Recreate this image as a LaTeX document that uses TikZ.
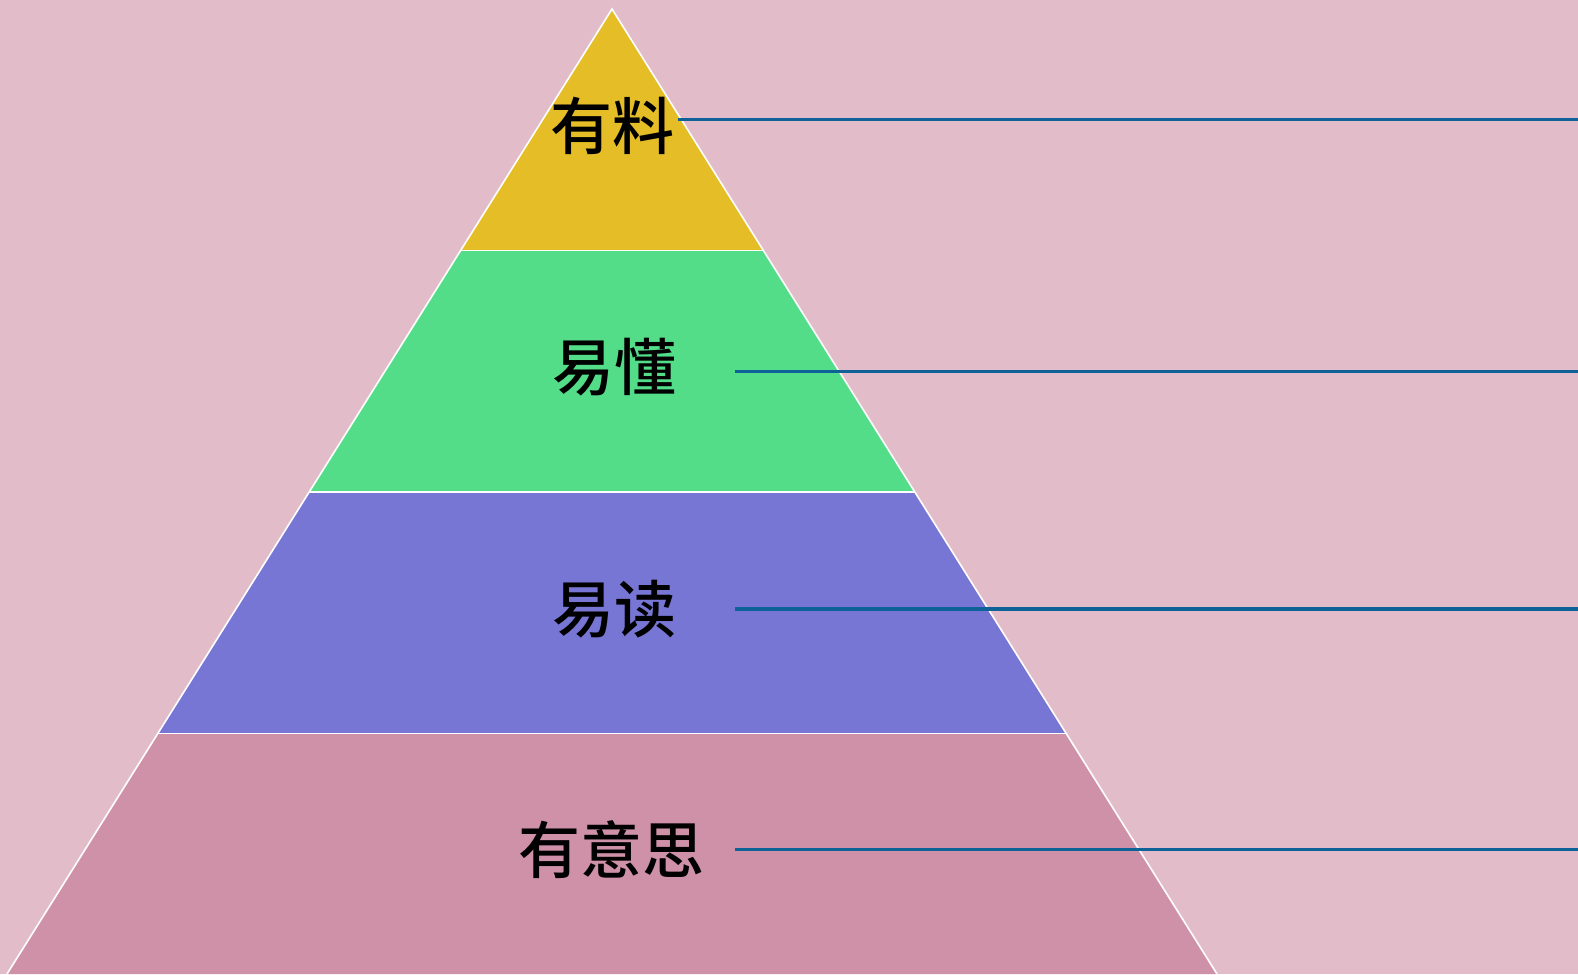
\documentclass[tikz,border=0pt]{standalone}
\usepackage{fontspec}
\newfontfamily\cjk{Noto Sans CJK SC}[BoldFont={Noto Sans CJK SC Medium}]
\usetikzlibrary{positioning, calc}

\definecolor{bgpink}{HTML}{E2BDC9}
\definecolor{tiergold}{HTML}{E5BD26}
\definecolor{tiergreen}{HTML}{53DD89}
\definecolor{tierviolet}{HTML}{7876D5}
\definecolor{tierrose}{HTML}{CF91A8}
\definecolor{leaderblue}{HTML}{0F6298}

\tikzset{
  tier/.style={draw=white, line width=1.6pt, line join=miter},
  tierlabel/.style={font=\cjk\bfseries\fontsize{62}{62}\selectfont, inner sep=0pt, text=black},
  leader/.style={draw=leaderblue, line width=3.2pt}
}

\begin{document}
\begin{tikzpicture}[x=1pt, y=-1pt]
	\useasboundingbox[fill=bgpink] (0,0) rectangle (1578,974);
	% pyramid corners
	\coordinate (apex) at (612,9);
	\coordinate (bl) at (7,974);
	\coordinate (br) at (1217,974);
	\coordinate (l1) at ($(apex)!0.2503!(bl)$);  \coordinate (r1) at ($(apex)!0.2503!(br)$);
	\coordinate (l2) at ($(apex)!0.5005!(bl)$);  \coordinate (r2) at ($(apex)!0.5005!(br)$);
	\coordinate (l3) at ($(apex)!0.7508!(bl)$);  \coordinate (r3) at ($(apex)!0.7508!(br)$);
	% tiers
	\fill[tierrose] (l3) -- (r3) -- (br) -- (bl) -- cycle;
	\fill[tierviolet] (l2) -- (r2) -- (r3) -- (l3) -- cycle;
	\fill[tiergreen] (l1) -- (r1) -- (r2) -- (l2) -- cycle;
	\fill[tiergold] (apex) -- (r1) -- (l1) -- cycle;
	\draw[tier] (bl) -- (apex) -- (br);
	\draw[tier] (l1) -- (r1) (l2) -- (r2) (l3) -- (r3);
	% labels
	\node[tierlabel] (youliao) at (612,126) {有料};
	\node[tierlabel] (yidong) at (614,367) {易懂};
	\node[tierlabel] (yidu) at (614,609) {易读};
	\node[tierlabel] (youyisi) at (611,850) {有意思};
	% leader lines
	\coordinate (s1) at (678,119.8);  \coordinate (e1) at (1578,119.8);
	\coordinate (s2) at (735,371.4);  \coordinate (e2) at (1578,371.4);
	\coordinate (s3) at (735,608.9);  \coordinate (e3) at (1578,608.9);
	\coordinate (s4) at (735,849.4);  \coordinate (e4) at (1578,849.4);
	\draw[leader] (s1) -- (e1);
	\draw[leader] (s2) -- (e2);
	\draw[leader] (s3) -- (e3);
	\draw[leader] (s4) -- (e4);
\end{tikzpicture}
\end{document}
